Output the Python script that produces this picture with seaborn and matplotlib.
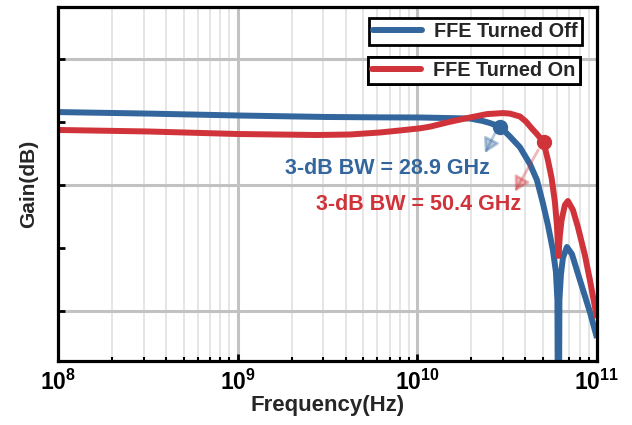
import numpy as np
import pandas as pd
import matplotlib
matplotlib.use("Agg")
import matplotlib.pyplot as plt
import seaborn as sns
from matplotlib.lines import Line2D
from matplotlib.ticker import FixedLocator, FixedFormatter, NullFormatter

# ---- data (frequency in GHz, gain in arbitrary dB units) ----
off_freq_ghz = [0.1, 0.317, 0.991, 3.14, 6.19, 10.34, 19.62, 23.18, 25.35, 28.9, 32.75, 37.24,
                42.33, 46.30, 49.98, 53.31, 56.83, 59.07, 60.22, 60.99, 61.78, 62.97,
                64.60, 68.01, 72.50, 80.33, 91.32, 100.0]
off_gain = [-4.21, -4.33, -4.48, -4.60, -4.63, -4.64, -4.72, -4.92, -5.08, -5.37, -6.15, -7.00,
            -8.33, -9.60, -11.43, -13.17, -15.16, -16.90, -19.13, -40.0, -19.13, -17.14,
            -15.79, -14.92, -15.48, -17.54, -20.08, -22.14]

on_freq_ghz = [0.1, 0.317, 0.991, 2.763, 4.22, 6.19, 8.0, 10.34, 11.75, 15.19, 19.62, 24.40,
               29.95, 32.75, 37.24, 40.2, 43.43, 46.30, 50.4, 53.31, 55.89, 58.31, 59.83,
               60.99, 62.17, 63.53, 66.28, 68.89, 73.44, 78.30, 85.63, 91.32, 100.0]
on_gain = [-5.63, -5.75, -5.95, -6.03, -5.99, -5.83, -5.67, -5.50, -5.37, -4.98, -4.64, -4.37,
           -4.29, -4.33, -4.56, -4.96, -5.52, -5.95, -6.59, -8.02, -9.44, -11.35, -13.17,
           -15.63, -13.97, -12.78, -11.59, -11.27, -11.98, -13.33, -15.56, -17.54, -20.56]

series_names = ["FFE Turned Off", "FFE Turned On"]
bw_freq_ghz = [28.9, 50.4]
bw_gain = [-5.37, -6.59]
bw_labels = ["3-dB BW = 28.9 GHz", "3-dB BW = 50.4 GHz"]
x_ticks = [1e8, 1e9, 1e10, 1e11]
x_tick_labels = [r"$\mathbf{10^{8}}$", r"$\mathbf{10^{9}}$", r"$\mathbf{10^{10}}$", r"$\mathbf{10^{11}}$"]

colors = ["#33669c", "#d0343a"]

df = pd.DataFrame({
    "freq": np.array(off_freq_ghz + on_freq_ghz) * 1e9,
    "gain": off_gain + on_gain,
    "series": [series_names[0]] * len(off_freq_ghz) + [series_names[1]] * len(on_freq_ghz),
})

sns.set_theme(style="white")
plt.rcParams["font.family"] = ["Liberation Sans", "DejaVu Sans"]
plt.rcParams["mathtext.fontset"] = "custom"
plt.rcParams["mathtext.bf"] = "Liberation Sans:bold"
plt.rcParams["mathtext.rm"] = "Liberation Sans:bold"

fig = plt.figure(figsize=(6.32, 4.25), dpi=100)
ax = fig.add_axes([0.0918, 0.1506, 0.8528, 0.8329])

ax.set_xscale("log")
ax.set_xlim(1e8, 1e11)
ax.set_ylim(-23.97, 4.13)

# grids
major_x = x_ticks
minor_x = [m * 10 ** e for e in range(8, 11) for m in range(2, 10)]
for xv in minor_x:
    ax.axvline(xv, color="#e3e3e3", lw=1.3, zorder=0)
for xv in major_x[1:-1]:
    ax.axvline(xv, color="#c2c2c2", lw=2.2, zorder=0)
for yv in [-20, -10, 0]:
    ax.axhline(yv, color="#c2c2c2", lw=2.2, zorder=0)

sns.lineplot(data=df, x="freq", y="gain", hue="series", palette=colors,
             hue_order=series_names, lw=4.3, ax=ax, legend=False, sort=False,
             estimator=None, zorder=3)
for ln in ax.get_lines():
    ln.set_solid_joinstyle("round")
    ln.set_solid_capstyle("butt")

# 3-dB markers
for f, g, c in zip(bw_freq_ghz, bw_gain, colors):
    ax.plot(f * 1e9, g, "o", color=c, ms=10, zorder=4)

# arrows
arrow_style = "-|>,head_length=0.65,head_width=0.38"
ax.annotate("", xy=(23.78e9, -7.48), xytext=(27.03e9, -5.90),
            arrowprops=dict(arrowstyle=arrow_style, color=colors[0], alpha=0.35,
                            lw=2.0, shrinkA=0, shrinkB=0, mutation_scale=13), zorder=5)
ax.annotate("", xy=(34.93e9, -10.53), xytext=(47.07e9, -7.22),
            arrowprops=dict(arrowstyle=arrow_style, color=colors[1], alpha=0.35,
                            lw=2.0, shrinkA=0, shrinkB=0, mutation_scale=13), zorder=5)

# annotation texts
ax.text(6.86e9, -8.65, bw_labels[0], color=colors[0], fontsize=15.5, fontweight="bold",
        ha="center", va="center", zorder=6)
ax.text(10.2e9, -11.51, bw_labels[1], color=colors[1], fontsize=15.5, fontweight="bold",
        ha="center", va="center", zorder=6)

# axes styling
ax.xaxis.set_major_locator(FixedLocator(x_ticks))
ax.xaxis.set_major_formatter(FixedFormatter(x_tick_labels))
ax.xaxis.set_minor_locator(FixedLocator(minor_x))
ax.xaxis.set_minor_formatter(NullFormatter())
ax.set_yticks([-20, -10, 0])
ax.set_yticks([-15, -5], minor=True)
ax.set_yticklabels([])
ax.tick_params(axis="both", which="major", direction="in", length=5, width=2,
               colors="black", labelsize=16.5, pad=6, bottom=True, left=True)
ax.tick_params(axis="both", which="minor", direction="in", length=3, width=1.5,
               colors="black", bottom=True, left=True)
ax.tick_params(axis="y", which="minor", length=5, width=2)
for s in ax.spines.values():
    s.set_color("black")
    s.set_linewidth(2.3)
    s.set_zorder(10)

ax.set_xlabel("Frequency(Hz)", fontsize=16, fontweight="bold", labelpad=0)
ax.set_ylabel("Gain(dB)", fontsize=15, fontweight="bold", labelpad=8)

# legends (two separate boxes)
anchors = [(0.972, 0.969), (0.968, 0.859)]
for i, (name, c) in enumerate(zip(series_names, colors)):
    h = Line2D([], [], color=c, lw=4.3)
    leg = ax.legend(handles=[h], labels=[name], loc="upper right",
                    bbox_to_anchor=anchors[i], frameon=True,
                    fancybox=False, edgecolor="black", framealpha=1,
                    prop=dict(weight="bold", size=14.3), handlelength=2.5,
                    borderpad=0.2, handletextpad=0.6, borderaxespad=0)
    leg.get_frame().set_linewidth(2.0)
    leg.set_zorder(20)
    ax.add_artist(leg)

fig.savefig("out.png", dpi=100)
